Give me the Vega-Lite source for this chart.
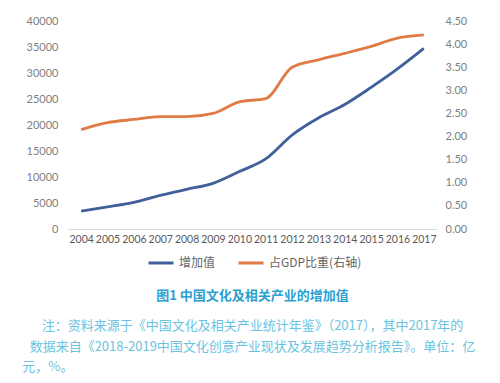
{
  "$schema": "https://vega.github.io/schema/vega-lite/v6.json",
  "width": 369,
  "height": 208,
  "autosize": "none",
  "padding": {"left": 68, "top": 21, "right": 63, "bottom": 154},
  "background": "white",
  "config": {"view": {"stroke": null}, "font": "Lato"},
  "data": {"values": [
    {"year": "2004", "value_added": 3440, "gdp_share": 2.15},
    {"year": "2005", "value_added": 4253, "gdp_share": 2.30},
    {"year": "2006", "value_added": 5123, "gdp_share": 2.37},
    {"year": "2007", "value_added": 6455, "gdp_share": 2.43},
    {"year": "2008", "value_added": 7630, "gdp_share": 2.43},
    {"year": "2009", "value_added": 8786, "gdp_share": 2.50},
    {"year": "2010", "value_added": 11052, "gdp_share": 2.75},
    {"year": "2011", "value_added": 13479, "gdp_share": 2.82},
    {"year": "2012", "value_added": 18071, "gdp_share": 3.50},
    {"year": "2013", "value_added": 21351, "gdp_share": 3.66},
    {"year": "2014", "value_added": 23940, "gdp_share": 3.80},
    {"year": "2015", "value_added": 27235, "gdp_share": 3.95},
    {"year": "2016", "value_added": 30785, "gdp_share": 4.13},
    {"year": "2017", "value_added": 34722, "gdp_share": 4.20}
  ]},
  "title": {
    "text": "图1 中国文化及相关产业的增加值",
    "orient": "bottom",
    "anchor": "middle",
    "offset": 21,
    "font": "Noto Sans CJK SC",
    "fontSize": 13,
    "fontWeight": "bold",
    "color": "#2A9FD0",
    "subtitle": [
      "\u3000\u3000注：资料来源于《中国文化及相关产业统计年鉴》（2017），其中2017年的",
      "数据来自《2018-2019中国文化创意产业现状及发展趋势分析报告》。单位：亿",
      "元，%。\u3000\u3000\u3000\u3000\u3000\u3000\u3000\u3000\u3000\u3000\u3000\u3000\u3000\u3000\u3000\u3000\u3000\u3000\u3000\u3000\u3000\u3000\u3000\u3000\u3000\u3000\u3000\u3000\u3000\u3000\u3000\u3000\u200b"
    ],
    "subtitleFont": "Noto Sans CJK SC",
    "subtitleFontSize": 13,
    "subtitleColor": "#6CC3E0",
    "subtitleLineHeight": 20.5,
    "subtitlePadding": 17
  },
  "layer": [
    {
      "mark": {"type": "line", "interpolate": "monotone", "strokeWidth": 2.8},
      "encoding": {
        "x": {"field": "year", "type": "ordinal", "title": null,
          "axis": {"labelAngle": 0, "labelOverlap": false, "ticks": false, "domainColor": "#d9d9d9", "labelColor": "#595959", "labelFontSize": 10.5, "labelPadding": 5}},
        "y": {"field": "value_added", "type": "quantitative", "title": null,
          "scale": {"domain": [0, 40000]},
          "axis": {"values": [0, 5000, 10000, 15000, 20000, 25000, 30000, 35000, 40000], "format": "d", "grid": false, "domain": false, "ticks": false, "labelColor": "#808080", "labelFontSize": 11, "labelPadding": 10}},
        "color": {"datum": "增加值", "type": "nominal",
          "scale": {"domain": ["增加值", "占GDP比重(右轴)"], "range": ["#40609A", "#E07B45"]},
          "legend": {"orient": "none", "legendX": 79, "legendY": 228, "title": null, "direction": "horizontal", "symbolType": "stroke", "symbolSize": 625, "symbolStrokeWidth": 3, "labelFontSize": 12, "labelColor": "#666666", "labelFont": "Noto Sans CJK SC", "columnPadding": 16}}
      }
    },
    {
      "mark": {"type": "line", "interpolate": "monotone", "strokeWidth": 2.8},
      "encoding": {
        "x": {"field": "year", "type": "ordinal"},
        "y": {"field": "gdp_share", "type": "quantitative", "title": null,
          "scale": {"domain": [0, 4.5]},
          "axis": {"orient": "right", "values": [0, 0.5, 1, 1.5, 2, 2.5, 3, 3.5, 4, 4.5], "format": ".2f", "grid": false, "domain": false, "ticks": false, "labelColor": "#808080", "labelFontSize": 11, "labelPadding": 8}},
        "color": {"datum": "占GDP比重(右轴)", "type": "nominal"}
      }
    }
  ],
  "resolve": {"scale": {"y": "independent"}}
}
